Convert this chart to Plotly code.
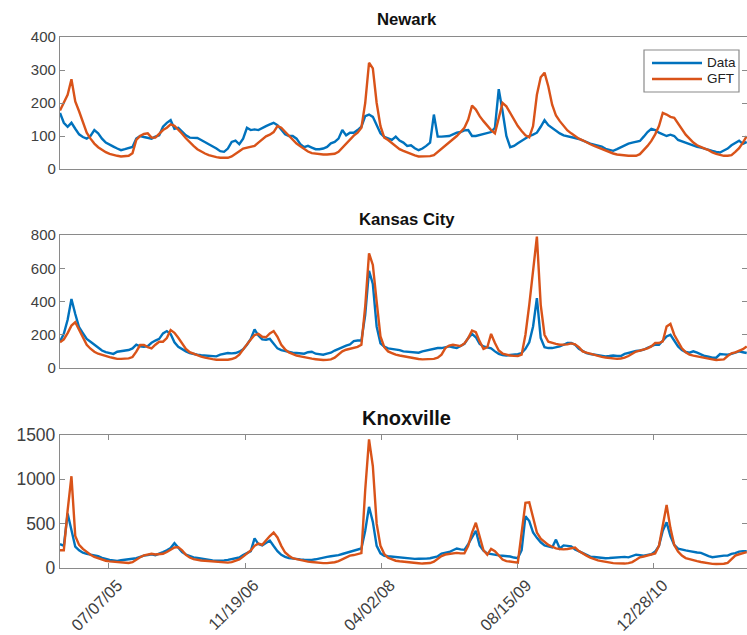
import pandas as pd
import plotly.graph_objects as go

# ---- data (biweekly samples) ----
start_date = "2005-01-09"
n_points = 181
dates = pd.date_range(start_date, periods=n_points, freq="14D")

tick_dates = ["2005-07-07", "2006-11-19", "2008-04-02", "2009-08-15", "2010-12-28"]
tick_labels = ["07/07/05", "11/19/06", "04/02/08", "08/15/09", "12/28/10"]
series_names = ["Data", "GFT"]

newark_gft = [177, 200, 225, 272, 205, 175, 142, 110, 92, 77, 66, 58, 51, 46, 42, 40, 38, 38, 40, 48,
              88, 100, 106, 108, 95, 95, 108, 118, 125, 135, 131, 120, 107, 93, 80, 70, 60, 53, 47, 42,
              38, 36, 34, 33, 34, 38, 45, 54, 62, 65, 66, 70, 80, 90, 99, 104, 112, 130, 125, 113,
              100, 87, 77, 69, 60, 53, 48, 46, 45, 44, 44, 44, 46, 52, 64, 78, 90, 101, 110, 125,
              200, 322, 305, 200, 130, 95, 88, 78, 70, 60, 55, 50, 45, 41, 38, 38, 38, 39, 42, 52,
              62, 70, 79, 90, 100, 112, 125, 150, 192, 180, 160, 145, 130, 118, 108, 150, 200, 190, 170, 150,
              130, 115, 102, 96, 130, 225, 278, 292, 250, 195, 162, 145, 130, 117, 108, 100, 92, 87, 80, 75,
              70, 65, 61, 56, 51, 47, 44, 42, 41, 40, 40, 40, 45, 56, 70, 85, 105, 130, 170, 165,
              158, 155, 138, 122, 104, 92, 80, 72, 66, 62, 57, 50, 46, 42, 40, 40, 42, 52, 63, 80, 100]
newark_data = [170, 140, 128, 140, 122, 105, 97, 92, 100, 118, 108, 92, 80, 73, 68, 62, 57, 60, 63, 67,
               92, 100, 97, 95, 92, 98, 102, 128, 140, 148, 122, 125, 113, 102, 95, 95, 94, 88, 82, 76,
               70, 62, 54, 52, 62, 82, 86, 75, 92, 125, 118, 120, 118, 125, 130, 135, 140, 133, 118, 105,
               100, 100, 92, 75, 66, 70, 65, 60, 60, 62, 67, 78, 82, 92, 118, 102, 110, 110, 118, 128,
               160, 165, 158, 130, 108, 97, 92, 88, 98, 86, 80, 70, 72, 63, 57, 62, 70, 80, 165, 98,
               98, 100, 100, 105, 110, 112, 117, 118, 100, 100, 103, 105, 108, 112, 125, 242, 175, 100, 66, 70,
               78, 86, 93, 100, 104, 110, 128, 148, 133, 124, 115, 108, 102, 100, 97, 94, 91, 86, 80, 77,
               74, 72, 68, 61, 58, 55, 60, 66, 73, 77, 80, 82, 85, 98, 112, 122, 118, 110, 104, 100,
               104, 100, 88, 84, 80, 76, 70, 67, 65, 61, 58, 55, 52, 50, 56, 62, 72, 80, 86, 76, 82]

kc_gft = [155, 172, 210, 255, 275, 232, 185, 140, 116, 98, 86, 78, 71, 65, 60, 55, 55, 56, 58, 66,
          98, 138, 138, 126, 118, 140, 158, 158, 180, 228, 212, 182, 148, 115, 95, 85, 74, 68, 62, 56,
          53, 50, 49, 48, 50, 54, 62, 80, 108, 142, 172, 198, 205, 188, 185, 208, 222, 188, 140, 112,
          94, 84, 75, 70, 64, 60, 56, 53, 50, 48, 49, 52, 62, 80, 100, 110, 115, 120, 127, 140,
          370, 690, 620, 400, 190, 125, 100, 90, 80, 75, 70, 66, 61, 57, 54, 52, 52, 52, 55, 62,
          80, 120, 135, 140, 135, 132, 148, 180, 225, 215, 160, 115, 125, 205, 150, 105, 87, 80, 75, 73,
          72, 80, 200, 380, 600, 790, 380, 200, 158, 150, 145, 140, 140, 142, 148, 142, 125, 100, 92, 85,
          78, 73, 67, 63, 60, 57, 55, 57, 62, 72, 85, 99, 105, 112, 118, 130, 150, 150, 160, 250,
          265, 200, 160, 118, 95, 80, 74, 69, 63, 59, 56, 52, 48, 48, 52, 72, 88, 94, 102, 113, 130]
kc_data = [160, 205, 290, 415, 325, 245, 210, 175, 158, 140, 125, 105, 95, 88, 85, 98, 100, 102, 108, 118,
           140, 130, 128, 132, 152, 165, 175, 208, 222, 205, 155, 128, 112, 100, 90, 84, 80, 77, 75, 75,
           72, 70, 80, 86, 90, 88, 90, 98, 112, 140, 175, 232, 195, 172, 170, 175, 148, 118, 108, 102,
           96, 92, 90, 88, 86, 95, 98, 86, 82, 80, 86, 92, 105, 115, 128, 135, 142, 162, 165, 165,
           320, 585, 505, 250, 148, 128, 118, 115, 115, 108, 100, 97, 95, 92, 92, 100, 105, 110, 117, 120,
           120, 125, 130, 125, 120, 132, 145, 180, 205, 185, 145, 130, 125, 118, 100, 85, 78, 75, 78, 80,
           83, 90, 115, 155, 250, 420, 180, 125, 120, 120, 125, 130, 140, 150, 150, 140, 115, 100, 90, 84,
           80, 77, 74, 70, 72, 75, 72, 72, 85, 92, 98, 102, 105, 110, 122, 132, 140, 140, 165, 190,
           200, 165, 130, 108, 96, 92, 100, 92, 80, 72, 68, 62, 62, 84, 82, 80, 85, 92, 100, 95, 90]

knox_gft = [200, 200, 650, 1035, 360, 260, 215, 180, 150, 125, 108, 95, 82, 75, 70, 64, 60, 56, 56, 65,
            98, 122, 142, 155, 160, 152, 152, 160, 180, 205, 232, 235, 200, 148, 118, 100, 90, 84, 81, 77,
            71, 67, 65, 62, 61, 66, 78, 97, 128, 163, 198, 250, 275, 262, 315, 360, 400, 345, 250, 175,
            138, 110, 100, 88, 79, 72, 68, 62, 58, 55, 55, 56, 65, 78, 96, 118, 140, 146, 153, 168,
            880, 1450, 1150, 500, 250, 158, 115, 95, 82, 76, 70, 64, 60, 56, 54, 50, 52, 56, 72, 100,
            135, 152, 160, 165, 170, 165, 165, 250, 400, 510, 340, 200, 150, 215, 190, 140, 95, 78, 70, 63,
            60, 400, 735, 740, 560, 400, 330, 295, 260, 240, 222, 215, 210, 215, 222, 230, 190, 160, 140, 118,
            100, 85, 77, 67, 60, 55, 52, 50, 50, 55, 66, 92, 120, 130, 142, 152, 165, 250, 480, 710,
            450, 260, 185, 140, 112, 98, 88, 78, 68, 58, 52, 46, 45, 45, 48, 58, 100, 140, 155, 168, 180]
knox_data = [270, 250, 615, 430, 240, 200, 172, 160, 150, 145, 135, 115, 100, 90, 85, 80, 88, 92, 98, 102,
             110, 125, 140, 145, 155, 145, 160, 180, 200, 225, 280, 225, 180, 152, 132, 120, 114, 106, 95, 88,
             85, 82, 80, 86, 92, 98, 108, 118, 145, 172, 190, 335, 270, 255, 285, 310, 248, 190, 148, 125,
             112, 105, 100, 97, 94, 90, 92, 98, 110, 120, 126, 132, 137, 145, 158, 170, 180, 198, 212, 220,
             420, 690, 520, 250, 165, 138, 132, 128, 121, 116, 110, 104, 100, 103, 104, 101, 106, 110, 122, 132,
             162, 172, 180, 200, 220, 210, 205, 270, 350, 420, 255, 195, 165, 155, 147, 142, 138, 135, 130, 118,
             110, 200, 585, 530, 400, 340, 290, 255, 245, 232, 320, 220, 255, 250, 245, 210, 190, 162, 142, 128,
             124, 118, 112, 110, 112, 116, 122, 128, 125, 120, 135, 150, 145, 140, 148, 155, 185, 250, 420, 515,
             360, 260, 218, 205, 198, 190, 180, 175, 170, 150, 135, 122, 128, 140, 140, 140, 160, 168, 185, 190, 190]

panels = [
    ("Newark", newark_data, newark_gft, [0, 400], [0, 100, 200, 300, 400], 16.7, 15),
    ("Kansas City", kc_data, kc_gft, [0, 800], [0, 200, 400, 600, 800], 16.7, 15),
    ("Knoxville", knox_data, knox_gft, [0, 1500], [0, 500, 1000, 1500], 20, 17.5),
]

# ---- styling ----
W, H = 747, 635
ML = 60
PW = W - ML
BLUE = "#0072BD"
ORANGE = "#D95319"
AXC = "#8a8a8a"
TXT = "#404040"
FONT = "Liberation Sans, Arial, sans-serif"
x_range = ["2005-01-09", "2011-12-05"]
rows_px = [(37, 169), (235, 368), (435, 568)]
title_px = [20, 219, 418]
title_cx = 406.5


def px_x(p):
    return (p - ML) / PW


def px_y(p):
    return 1 - p / H


fig = go.Figure()
layout = dict(
    width=W, height=H,
    margin=dict(l=ML, r=0, t=0, b=0),
    paper_bgcolor="white", plot_bgcolor="white",
    font=dict(family=FONT, size=14, color=TXT),
    showlegend=False,
    annotations=[], shapes=[],
)

colors = [BLUE, ORANGE]
for i, (name, dat, gft, yr, ytv, tsize, ksize) in enumerate(panels):
    idx = "" if i == 0 else str(i + 1)
    top, bot = rows_px[i]
    last = i == len(panels) - 1
    for sname, vals, col in zip(series_names, [dat, gft], colors):
        fig.add_trace(go.Scatter(x=dates, y=vals, mode="lines", name=sname,
                                 line=dict(color=col, width=2.4),
                                 xaxis="x" + idx, yaxis="y" + idx))
    layout["xaxis" + idx] = dict(
        domain=[0, 1], anchor="y" + idx, type="date", range=x_range,
        showgrid=False, zeroline=False, showline=True, linecolor=AXC, linewidth=1.3,
        mirror="ticks" if last else True,
        ticks="inside" if last else "", ticklen=5, tickcolor=AXC,
        tickvals=tick_dates if last else [], ticktext=tick_labels if last else [],
        showticklabels=last, tickangle=-45, automargin=False,
        ticklabelshift=9,
        tickfont=dict(family=FONT, size=16.5, color=TXT),
    )
    layout["yaxis" + idx] = dict(
        domain=[px_y(bot), px_y(top)], anchor="x" + idx, range=yr,
        tickvals=ytv, showgrid=False, zeroline=False, showline=True, linecolor=AXC,
        linewidth=1.3, mirror="ticks", ticks="inside", ticklen=5, tickcolor=AXC,
        automargin=False, tickfont=dict(family=FONT, size=ksize, color=TXT),
    )
    layout["annotations"].append(dict(
        text="<b>" + name + "</b>", x=px_x(title_cx), xref="paper", y=px_y(title_px[i]),
        yref="paper", xanchor="center", yanchor="middle", showarrow=False,
        font=dict(family=FONT, size=tsize, color="#111")))

# legend box (drawn in the Newark panel, like the original)
lg_left, lg_right, lg_top, lg_bot = 644, 739, 50, 92
layout["shapes"].append(dict(type="rect", xref="paper", yref="paper",
                             x0=px_x(lg_left), x1=px_x(lg_right), y0=px_y(lg_bot), y1=px_y(lg_top),
                             line=dict(color="#8a8a8a", width=1.2), fillcolor="white", layer="above"))
for j, (sname, col) in enumerate(zip(series_names, colors)):
    yy = px_y(63 + 16 * j)
    layout["shapes"].append(dict(type="line", xref="paper", yref="paper",
                                 x0=px_x(652), x1=px_x(702), y0=yy, y1=yy,
                                 line=dict(color=col, width=2.4), layer="above"))
    layout["annotations"].append(dict(text=sname, x=px_x(705), y=yy, xref="paper", yref="paper",
                                      xanchor="left", yanchor="middle", showarrow=False,
                                      font=dict(family=FONT, size=13.5, color="#222")))

fig.update_layout(**layout)
fig.write_html("out.html", config={"displayModeBar": False},
               post_script="document.body.style.margin='0';document.body.style.overflow='hidden';")
